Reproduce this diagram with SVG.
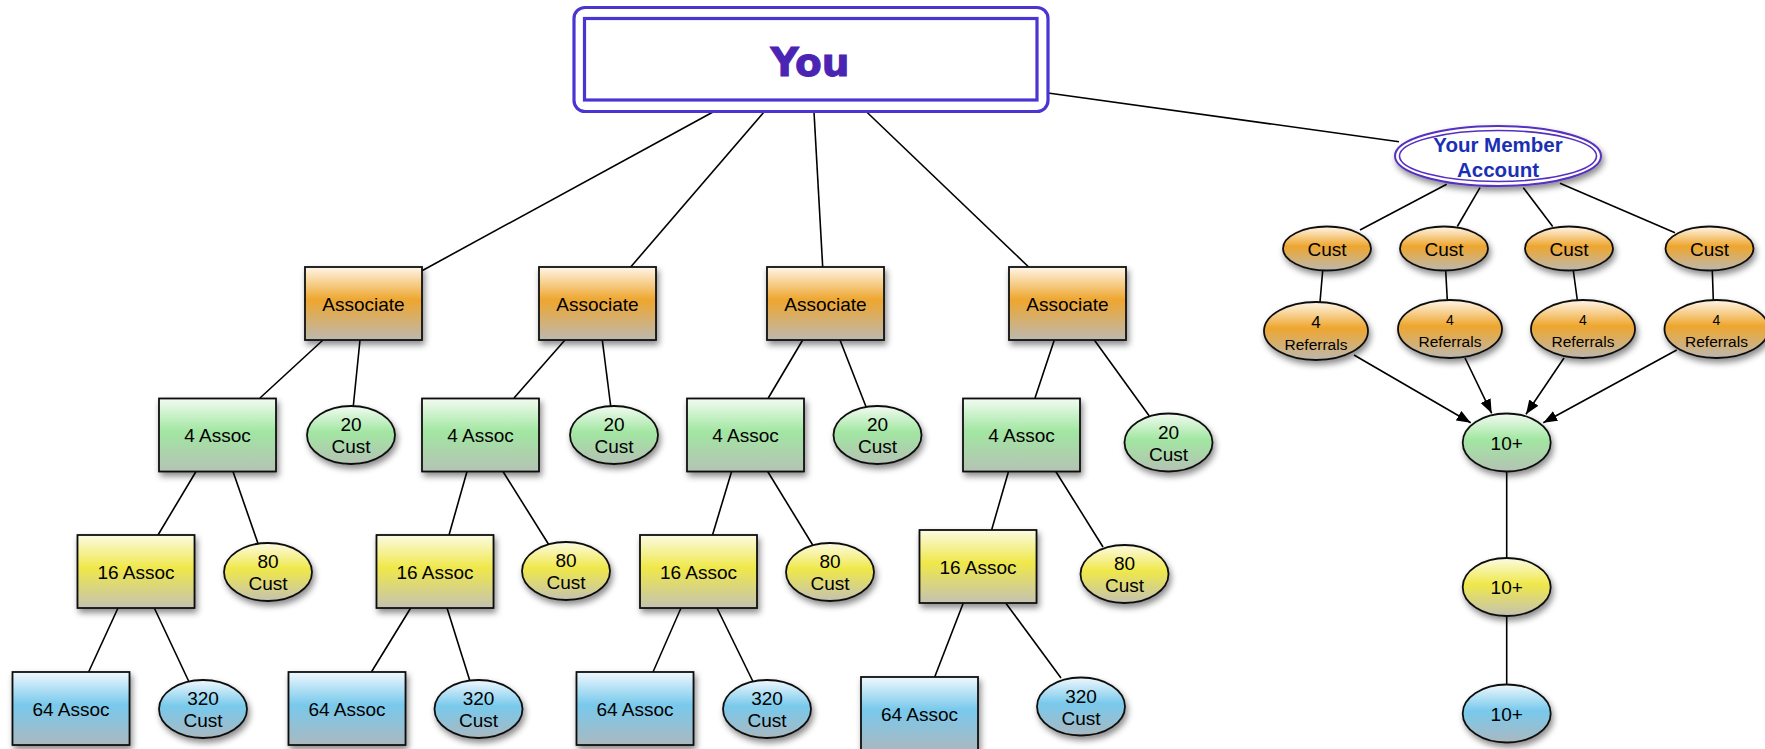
<svg xmlns="http://www.w3.org/2000/svg" width="1765" height="749" viewBox="0 0 1765 749">
<defs>
<linearGradient id="gO" x1="0" y1="0" x2="0" y2="1"><stop offset="0" stop-color="#fff6e8"/><stop offset="0.45" stop-color="#eea62e"/><stop offset="1" stop-color="#bcb8b0"/></linearGradient>
<linearGradient id="gG" x1="0" y1="0" x2="0" y2="1"><stop offset="0" stop-color="#f2fcf1"/><stop offset="0.45" stop-color="#a2e6a2"/><stop offset="1" stop-color="#b4c2b4"/></linearGradient>
<linearGradient id="gY" x1="0" y1="0" x2="0" y2="1"><stop offset="0" stop-color="#fcfbe4"/><stop offset="0.45" stop-color="#efe84a"/><stop offset="1" stop-color="#c4c2b2"/></linearGradient>
<linearGradient id="gB" x1="0" y1="0" x2="0" y2="1"><stop offset="0" stop-color="#eff8fd"/><stop offset="0.45" stop-color="#78c9ec"/><stop offset="1" stop-color="#aab8c0"/></linearGradient>
<filter id="sh" x="-20%" y="-20%" width="140%" height="150%"><feDropShadow dx="2" dy="4" stdDeviation="3" flood-color="#000" flood-opacity="0.45"/></filter>
<marker id="arr" markerUnits="userSpaceOnUse" markerWidth="15" markerHeight="12" refX="14" refY="5.5" orient="auto"><path d="M0,0 L14,5.5 L0,11 z" fill="#000"/></marker>
<style>
.c{stroke:#000;stroke-width:1.6;fill:none}
.n{stroke:#111;stroke-width:1.8;filter:url(#sh)}
.o{fill:url(#gO)}.g{fill:url(#gG)}.y{fill:url(#gY)}.b{fill:url(#gB)}
.t{font-family:"Liberation Sans",Arial,sans-serif;font-size:19px;fill:#000;text-anchor:middle}
.s{font-size:15.5px}
</style>
</defs>
<g id="connectors">
<line class="c" x1="713" y1="112" x2="422" y2="270.7"/>
<line class="c" x1="764" y1="112" x2="630.7" y2="267"/>
<line class="c" x1="814" y1="112" x2="822.7" y2="267"/>
<line class="c" x1="866.7" y1="112" x2="1028.7" y2="267"/>
<line class="c" x1="1048" y1="93" x2="1399" y2="141.7"/>
<line class="c" x1="323" y1="340" x2="260" y2="398"/>
<line class="c" x1="360" y1="340" x2="353.3" y2="406"/>
<line class="c" x1="565" y1="340" x2="514" y2="398"/>
<line class="c" x1="602.3" y1="340" x2="610.7" y2="406"/>
<line class="c" x1="802.7" y1="340" x2="768.3" y2="398"/>
<line class="c" x1="840" y1="340" x2="866" y2="406.7"/>
<line class="c" x1="1054.3" y1="340" x2="1035" y2="398"/>
<line class="c" x1="1094.3" y1="340" x2="1149.3" y2="416"/>
<line class="c" x1="196" y1="471.5" x2="158" y2="535"/>
<line class="c" x1="233" y1="471.5" x2="258" y2="543.5"/>
<line class="c" x1="467" y1="471.5" x2="449" y2="535"/>
<line class="c" x1="503" y1="471.5" x2="549" y2="545"/>
<line class="c" x1="731.6" y1="471.5" x2="712.5" y2="535"/>
<line class="c" x1="767.7" y1="471.5" x2="812.7" y2="545"/>
<line class="c" x1="1008.5" y1="471.5" x2="991.6" y2="530"/>
<line class="c" x1="1055.8" y1="471.5" x2="1103" y2="547"/>
<line class="c" x1="118" y1="608" x2="88.6" y2="672"/>
<line class="c" x1="154.3" y1="608" x2="188.6" y2="681"/>
<line class="c" x1="410.7" y1="608" x2="371.4" y2="672"/>
<line class="c" x1="447" y1="608" x2="469.6" y2="680"/>
<line class="c" x1="681" y1="608" x2="653" y2="672"/>
<line class="c" x1="717" y1="608" x2="752.7" y2="681"/>
<line class="c" x1="963.3" y1="603" x2="934.7" y2="677"/>
<line class="c" x1="1005.7" y1="603" x2="1061" y2="678"/>
<line class="c" x1="1446.7" y1="184.3" x2="1360" y2="230"/>
<line class="c" x1="1480" y1="187.7" x2="1457.3" y2="226.5"/>
<line class="c" x1="1523.3" y1="187.7" x2="1552.7" y2="226.5"/>
<line class="c" x1="1560" y1="183.3" x2="1675" y2="232.7"/>
<line class="c" x1="1322.7" y1="270.5" x2="1320" y2="302"/>
<line class="c" x1="1445.7" y1="270.5" x2="1447.3" y2="300"/>
<line class="c" x1="1573.3" y1="270.5" x2="1577.3" y2="300"/>
<line class="c" x1="1712.3" y1="270.5" x2="1713.3" y2="300"/>
<line class="c" x1="1354" y1="355" x2="1470.7" y2="422.7" marker-end="url(#arr)"/>
<line class="c" x1="1465" y1="358" x2="1491.7" y2="413.3" marker-end="url(#arr)"/>
<line class="c" x1="1564" y1="358" x2="1526" y2="414.3" marker-end="url(#arr)"/>
<line class="c" x1="1676.7" y1="350" x2="1543.3" y2="422.7" marker-end="url(#arr)"/>
<line class="c" x1="1506.7" y1="471.5" x2="1506.7" y2="558"/>
<line class="c" x1="1506.7" y1="616" x2="1506.7" y2="684"/>
</g>
<g id="you">
<rect x="574" y="7.5" width="474" height="104" rx="11" fill="#fff" stroke="#4b35d2" stroke-width="3.2"/>
<rect x="584.5" y="18.5" width="452.5" height="81.5" fill="#fff" stroke="#4b35d2" stroke-width="3.2"/>
<text x="810" y="76" font-family="'DejaVu Sans',Verdana,sans-serif" font-weight="bold" font-size="39" fill="#4a24b2" stroke="#4a24b2" stroke-width="1" text-anchor="middle">You</text>
</g>
<g id="member">
<ellipse cx="1498" cy="156" rx="103" ry="30" fill="#fff" stroke="#5530c0" stroke-width="2" filter="url(#sh)"/>
<ellipse cx="1498" cy="156" rx="98.5" ry="25.5" fill="#fff" stroke="#5530c0" stroke-width="1.6"/>
<text class="t" x="1498" y="152" font-weight="bold" style="font-size:20.5px;fill:#1a30b4">Your Member</text>
<text class="t" x="1498" y="177" font-weight="bold" style="font-size:20.5px;fill:#1a30b4">Account</text>
</g>
<g id="assoc1"><rect class="n o" x="305" y="267" width="117" height="73"/><text class="t" x="363.5" y="310.5">Associate</text></g>
<g id="assoc2"><rect class="n o" x="539" y="267" width="117" height="73"/><text class="t" x="597.5" y="310.5">Associate</text></g>
<g id="assoc3"><rect class="n o" x="767" y="267" width="117" height="73"/><text class="t" x="825.5" y="310.5">Associate</text></g>
<g id="assoc4"><rect class="n o" x="1009" y="267" width="117" height="73"/><text class="t" x="1067.5" y="310.5">Associate</text></g>
<g id="cust20-1"><ellipse class="n g" cx="351" cy="435" rx="44" ry="29"/><text class="t" x="351" y="431">20</text><text class="t" x="351" y="453">Cust</text></g>
<g id="cust20-2"><ellipse class="n g" cx="614" cy="435" rx="44" ry="29"/><text class="t" x="614" y="431">20</text><text class="t" x="614" y="453">Cust</text></g>
<g id="cust20-3"><ellipse class="n g" cx="877.5" cy="435" rx="44" ry="29"/><text class="t" x="877.5" y="431">20</text><text class="t" x="877.5" y="453">Cust</text></g>
<g id="cust20-4"><ellipse class="n g" cx="1168.5" cy="442.5" rx="44" ry="29"/><text class="t" x="1168.5" y="438.5">20</text><text class="t" x="1168.5" y="460.5">Cust</text></g>
<g id="a4-1"><rect class="n g" x="159" y="398.5" width="117" height="73"/><text class="t" x="217.5" y="442">4 Assoc</text></g>
<g id="a4-2"><rect class="n g" x="422" y="398.5" width="117" height="73"/><text class="t" x="480.5" y="442">4 Assoc</text></g>
<g id="a4-3"><rect class="n g" x="687" y="398.5" width="117" height="73"/><text class="t" x="745.5" y="442">4 Assoc</text></g>
<g id="a4-4"><rect class="n g" x="963" y="398.5" width="117" height="73"/><text class="t" x="1021.5" y="442">4 Assoc</text></g>
<g id="a16-1"><rect class="n y" x="77.5" y="535" width="117" height="73"/><text class="t" x="136" y="578.5">16 Assoc</text></g>
<g id="a16-2"><rect class="n y" x="376.5" y="535" width="117" height="73"/><text class="t" x="435" y="578.5">16 Assoc</text></g>
<g id="a16-3"><rect class="n y" x="640" y="535" width="117" height="73"/><text class="t" x="698.5" y="578.5">16 Assoc</text></g>
<g id="a16-4"><rect class="n y" x="919.5" y="530" width="117" height="73"/><text class="t" x="978" y="573.5">16 Assoc</text></g>
<g id="cust80-1"><ellipse class="n y" cx="268" cy="572" rx="44" ry="29"/><text class="t" x="268" y="568">80</text><text class="t" x="268" y="590">Cust</text></g>
<g id="cust80-2"><ellipse class="n y" cx="566" cy="571" rx="44" ry="29"/><text class="t" x="566" y="567">80</text><text class="t" x="566" y="589">Cust</text></g>
<g id="cust80-3"><ellipse class="n y" cx="830" cy="572" rx="44" ry="29"/><text class="t" x="830" y="568">80</text><text class="t" x="830" y="590">Cust</text></g>
<g id="cust80-4"><ellipse class="n y" cx="1124.5" cy="574" rx="44" ry="29"/><text class="t" x="1124.5" y="570">80</text><text class="t" x="1124.5" y="592">Cust</text></g>
<g id="a64-1"><rect class="n b" x="12.5" y="672" width="117" height="73"/><text class="t" x="71" y="715.5">64 Assoc</text></g>
<g id="a64-2"><rect class="n b" x="288.5" y="672" width="117" height="73"/><text class="t" x="347" y="715.5">64 Assoc</text></g>
<g id="a64-3"><rect class="n b" x="576.5" y="672" width="117" height="73"/><text class="t" x="635" y="715.5">64 Assoc</text></g>
<g id="a64-4"><rect class="n b" x="861" y="677" width="117" height="73"/><text class="t" x="919.5" y="720.5">64 Assoc</text></g>
<g id="cust320-1"><ellipse class="n b" cx="203" cy="709" rx="44" ry="29"/><text class="t" x="203" y="705">320</text><text class="t" x="203" y="727">Cust</text></g>
<g id="cust320-2"><ellipse class="n b" cx="478.5" cy="709" rx="44" ry="29"/><text class="t" x="478.5" y="705">320</text><text class="t" x="478.5" y="727">Cust</text></g>
<g id="cust320-3"><ellipse class="n b" cx="767" cy="709" rx="44" ry="29"/><text class="t" x="767" y="705">320</text><text class="t" x="767" y="727">Cust</text></g>
<g id="cust320-4"><ellipse class="n b" cx="1081" cy="706.5" rx="44" ry="29"/><text class="t" x="1081" y="702.5">320</text><text class="t" x="1081" y="724.5">Cust</text></g>
<g id="rc1"><ellipse class="n o" cx="1327" cy="248.5" rx="44" ry="22"/><text class="t" x="1327" y="255.5">Cust</text></g>
<g id="rc2"><ellipse class="n o" cx="1444" cy="248.5" rx="44" ry="22"/><text class="t" x="1444" y="255.5">Cust</text></g>
<g id="rc3"><ellipse class="n o" cx="1569" cy="248.5" rx="44" ry="22"/><text class="t" x="1569" y="255.5">Cust</text></g>
<g id="rc4"><ellipse class="n o" cx="1709.5" cy="248.5" rx="44" ry="22"/><text class="t" x="1709.5" y="255.5">Cust</text></g>
<g id="ref1"><ellipse class="n o" cx="1316" cy="331" rx="52" ry="29"/><text class="t" x="1316" y="328" style="font-size:17px">4</text><text class="t s" x="1316" y="350">Referrals</text></g>
<g id="ref2"><ellipse class="n o" cx="1450" cy="329" rx="52" ry="29"/><text class="t" x="1450" y="325" style="font-size:14px">4</text><text class="t s" x="1450" y="347">Referrals</text></g>
<g id="ref3"><ellipse class="n o" cx="1583" cy="329" rx="52" ry="29"/><text class="t" x="1583" y="325" style="font-size:14px">4</text><text class="t s" x="1583" y="347">Referrals</text></g>
<g id="ref4"><ellipse class="n o" cx="1716.5" cy="329" rx="52" ry="29"/><text class="t" x="1716.5" y="325" style="font-size:14px">4</text><text class="t s" x="1716.5" y="347">Referrals</text></g>
<g id="ten1"><ellipse class="n g" cx="1506.7" cy="442.5" rx="44" ry="29"/><text class="t" x="1506.7" y="449.5">10+</text></g>
<g id="ten2"><ellipse class="n y" cx="1506.7" cy="587" rx="44" ry="29"/><text class="t" x="1506.7" y="594">10+</text></g>
<g id="ten3"><ellipse class="n b" cx="1506.7" cy="713.5" rx="44" ry="29"/><text class="t" x="1506.7" y="720.5">10+</text></g>
</svg>
